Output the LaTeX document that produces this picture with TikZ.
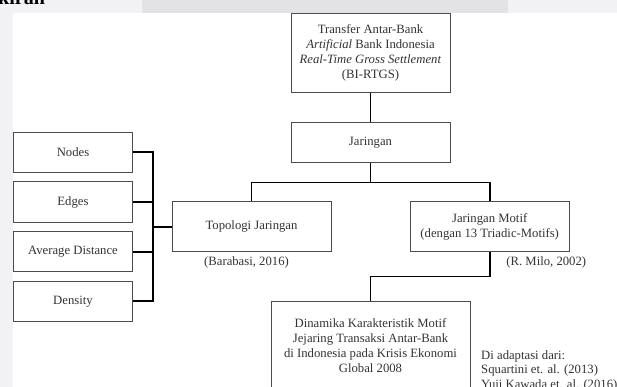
\documentclass[tikz,border=0pt]{standalone}
\usepackage{fontspec}
\setmainfont{Liberation Serif}
\definecolor{latar}{HTML}{F2F2F4}
\definecolor{latargelap}{HTML}{E3E3E5}
\definecolor{tulisan}{HTML}{333333}
\tikzset{
  kotak/.style={draw=black!70, line width=1pt, minimum width=159pt, align=center, text=tulisan, font=\fontsize{12.7}{15}\selectfont},
  ket/.style={text=tulisan, align=center, font=\fontsize{12.7}{15}\selectfont},
  garis/.style={line width=1.8pt, black},
}
\begin{document}
\begin{tikzpicture}[x=1pt,y=-1pt]
\useasboundingbox (0,0) rectangle (617,387);
\clip (0,0) rectangle (617,387);
% latar halaman
\fill[latar] (0,0) rectangle (617,387);
\fill[latargelap] (142,0) rectangle (508,13);
\fill[white] (13,13) rectangle (617,387);
\node[anchor=base west, inner sep=0, text=black, font=\bfseries\fontsize{20}{20}\selectfont] (judul) at (-2,5) {kiran};
% kotak utama
\node[kotak, minimum height=79pt] (transfer) at (370.5,52.8) {Transfer Antar-Bank\\\textit{Artificial} Bank Indonesia\\\textit{Real-Time Gross Settlement}\\(BI-RTGS)};
\node[kotak, minimum height=40pt] (jaringan) at (370.5,142.3) {Jaringan};
\node[kotak, minimum height=50pt] (topologi) at (251.5,226.7) {Topologi Jaringan};
\node[kotak, minimum height=50pt] (motif) at (489.7,226.7) {Jaringan Motif\\(dengan 13 Triadic-Motifs)};
\node[kotak, minimum width=199pt, minimum height=110pt, anchor=north] (dinamika) at (370.5,301) {};
\node[ket] (dinamikateks) at (370.5,346) {Dinamika Karakteristik Motif\\Jejaring Transaksi Antar-Bank\\di Indonesia pada Krisis Ekonomi\\Global 2008};
% kotak ukuran jaringan
\node[kotak, minimum width=119.4pt, minimum height=40pt] (nodes) at (73,152.2) {Nodes};
\node[kotak, minimum width=119.4pt, minimum height=40pt] (edges) at (73,202) {Edges};
\node[kotak, minimum width=119.4pt, minimum height=40pt] (avgdist) at (73,251.7) {Average Distance};
\node[kotak, minimum width=119.4pt, minimum height=40pt] (density) at (73,301.2) {Density};
% sumber
\node[ket] (barabasi) at (246.5,262) {(Barabasi, 2016)};
\node[ket] (milo) at (546.3,262) {(R. Milo, 2002)};
\node[ket, align=left, anchor=north west, font=\fontsize{12.7}{14.5}\selectfont] (adaptasi) at (477.7,347) {Di adaptasi dari:\\Squartini et. al. (2013)\\Yuji Kawada et. al. (2016)};
% garis penghubung
\draw[garis] (transfer) -- (jaringan);
\draw[garis] (jaringan.south) -- ++(0,19.7) coordinate (cabang);
\draw[garis] (topologi.north) |- (cabang) -| (motif.north);
\draw[garis] (motif.south) -- ++(0,24.3) -| (dinamika.north);
\coordinate (bus) at (152.7,0);
\draw[garis] (nodes.east) -| (bus |- density.east) -- (density.east);
\draw[garis] (edges.east) -- (edges.east -| bus);
\draw[garis] (avgdist.east) -- (avgdist.east -| bus);
\draw[garis] (topologi.west) -- (topologi.west -| bus);
\end{tikzpicture}
\end{document}
